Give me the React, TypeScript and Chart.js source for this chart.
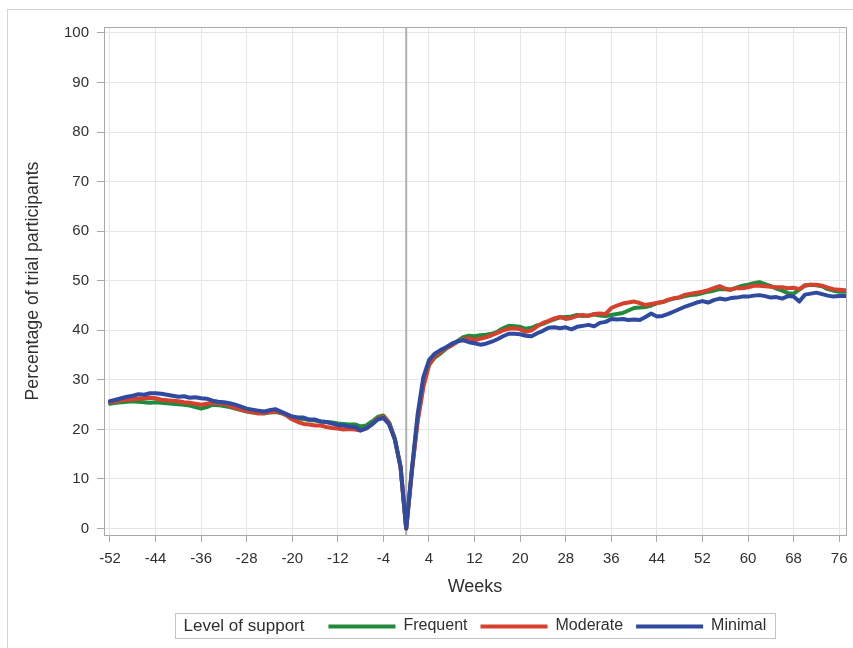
import React, { useEffect, useRef } from "react";
import { Chart, registerables } from "chart.js";

Chart.register(...registerables);

const FIRST_WEEK = -52;
const LAST_WEEK = 77;
const weeks: number[] = Array.from({ length: LAST_WEEK - FIRST_WEEK + 1 }, (_, i) => FIRST_WEEK + i);

const xTicks: number[] = [-52, -44, -36, -28, -20, -12, -4, 4, 12, 20, 28, 36, 44, 52, 60, 68, 76];
const yTicks: number[] = [0, 10, 20, 30, 40, 50, 60, 70, 80, 90, 100];

const seriesNames: string[] = ["Frequent", "Moderate", "Minimal"];
const seriesColors: string[] = ["#218a3d", "#d7402c", "#2f4aa0"];
const legendTitle = "Level of support";
const xTitle = "Weeks";
const yTitle = "Percentage of trial participants";

const frequent: number[] = [
  25.2, 25.4, 25.5, 25.6, 25.7, 25.6, 25.5, 25.4, 25.5, 25.4,
  25.3, 25.2, 25.1, 25.0, 24.8, 24.5, 24.2, 24.5, 25.0, 24.9,
  24.7, 24.5, 24.2, 23.9, 23.6, 23.4, 23.3, 23.2, 23.4, 23.5,
  23.3, 22.9, 22.4, 22.2, 22.1, 21.9, 21.8, 21.6, 21.5, 21.4,
  21.2, 21.1, 21.0, 21.0, 20.6, 20.8, 21.6, 22.5, 22.8, 21.4,
  18.2, 12.5, 0, 11.8, 22.0, 29.0, 33.0, 34.5, 35.3, 36.3,
  37.0, 37.8, 38.6, 38.9, 38.8, 39.0, 39.1, 39.3, 39.7, 40.4,
  40.9, 40.8, 40.7, 40.3, 40.5, 41.0, 41.3, 41.8, 42.2, 42.6,
  42.7, 42.8, 43.1, 42.9, 43.0, 43.2, 43.0, 42.9, 43.1, 43.3,
  43.5, 44.0, 44.5, 44.6, 44.7, 45.0, 45.5, 45.7, 46.1, 46.4,
  46.6, 46.9, 47.1, 47.2, 47.5, 47.8, 48.0, 48.3, 48.3, 48.2,
  48.6, 49.0, 49.2, 49.5, 49.7, 49.3, 48.9, 48.4, 48.0, 47.5,
  47.4, 48.2, 49.0, 49.2, 49.1, 48.9, 48.3, 48.0, 47.8, 47.8,
];

const moderate: number[] = [
  25.5, 25.7, 25.9, 26.0, 26.1, 26.2, 26.3, 26.4, 26.3, 26.0,
  25.9, 25.8, 25.7, 25.5, 25.4, 25.2, 25.0, 25.2, 25.4, 25.3,
  25.2, 24.8, 24.3, 24.0, 23.7, 23.5, 23.2, 23.3, 23.5, 23.6,
  23.4, 22.8, 22.0, 21.5, 21.1, 21.0, 20.8, 20.8, 20.5, 20.3,
  20.2, 20.0, 20.1, 20.0, 19.8, 20.2, 21.0, 22.2, 22.6, 21.3,
  18.0, 12.5, 0, 11.5, 21.5, 28.5, 33.0, 34.8, 35.6, 36.4,
  37.0, 37.7, 38.2, 38.4, 38.0, 38.3, 38.6, 39.0, 39.5, 40.0,
  40.3, 40.4, 40.2, 39.7, 40.0, 40.8, 41.5, 41.9, 42.4, 42.7,
  42.3, 42.5, 42.9, 43.1, 42.9, 43.3, 43.4, 43.3, 44.5, 45.0,
  45.4, 45.6, 45.8, 45.5, 45.1, 45.3, 45.5, 45.7, 46.2, 46.5,
  46.7, 47.2, 47.4, 47.6, 47.8, 48.1, 48.5, 48.9, 48.4, 48.2,
  48.5, 48.5, 48.7, 49.0, 49.0, 48.9, 48.8, 48.7, 48.7, 48.5,
  48.6, 48.3, 49.1, 49.2, 49.2, 49.0, 48.6, 48.3, 48.2, 48.1,
];

const minimal: number[] = [
  25.7, 26.0, 26.3, 26.6, 26.8, 27.1, 27.0, 27.3, 27.3, 27.2,
  27.0, 26.8, 26.6, 26.7, 26.4, 26.5, 26.3, 26.2, 25.8, 25.6,
  25.5, 25.3, 25.0, 24.6, 24.2, 24.0, 23.8, 23.6, 23.9, 24.1,
  23.6, 23.1, 22.6, 22.4, 22.4, 22.0, 22.0, 21.6, 21.5, 21.2,
  20.9, 20.8, 20.6, 20.5, 19.8, 20.2, 21.0, 22.0, 22.3, 21.0,
  18.0, 12.5, 0, 12.0, 23.0, 30.5, 34.0, 35.3, 36.0, 36.6,
  37.3, 37.8, 38.0, 37.6, 37.4, 37.1, 37.3, 37.7, 38.2, 38.8,
  39.3, 39.3, 39.2, 38.9, 38.8, 39.4, 39.9, 40.5, 40.6, 40.4,
  40.6, 40.2, 40.7, 40.9, 41.1, 40.8, 41.5, 41.7, 42.3, 42.2,
  42.3, 42.1, 42.2, 42.1, 42.7, 43.4, 42.8, 42.9, 43.3, 43.8,
  44.3, 44.8, 45.2, 45.6, 45.9, 45.6, 46.1, 46.4, 46.2, 46.5,
  46.6, 46.8, 46.8, 47.0, 47.1, 46.9, 46.6, 46.7, 46.4, 46.9,
  46.8, 45.8, 47.2, 47.4, 47.6, 47.3, 47.0, 46.8, 46.9, 46.9,
];

const seriesValues: number[][] = [frequent, moderate, minimal];

const FONT = "'Liberation Sans', Arial, Helvetica, sans-serif";
const TEXT = "#303030";

const decorPlugin = {
  id: "decor",
  beforeDraw(chart: any) {
    const ctx = chart.ctx;
    ctx.save();
    ctx.fillStyle = "#ffffff";
    ctx.fillRect(0, 0, chart.width, chart.height);
    ctx.strokeStyle = "#d4d4d4";
    ctx.lineWidth = 1;
    ctx.strokeRect(7.5, 9.5, chart.width + 20, chart.height + 20);
    ctx.restore();
  },
  beforeDatasetsDraw(chart: any) {
    const { ctx, chartArea, scales } = chart;
    const x0 = scales.x.getPixelForValue(0);
    ctx.save();
    ctx.strokeStyle = "#b0b0b0";
    ctx.lineWidth = 2;
    ctx.beginPath();
    ctx.moveTo(x0, chartArea.top);
    ctx.lineTo(x0, chartArea.bottom);
    ctx.stroke();
    ctx.restore();
  },
  afterDraw(chart: any) {
    const { ctx, chartArea } = chart;
    ctx.save();
    // plot frame top/right
    ctx.strokeStyle = "#a8a8a8";
    ctx.lineWidth = 1;
    ctx.beginPath();
    ctx.moveTo(chartArea.left, chartArea.top + 0.5);
    ctx.lineTo(chartArea.right + 0.5, chartArea.top + 0.5);
    ctx.lineTo(chartArea.right + 0.5, chartArea.bottom);
    ctx.stroke();

    // legend
    ctx.textBaseline = "middle";
    ctx.textAlign = "left";
    const lineLen = 67;
    const padL = 8;
    const padR = 9;
    const titleGap = 24;
    const lineGap = 8;
    const itemGap = 13;
    ctx.font = `17px ${FONT}`;
    const titleW = ctx.measureText(legendTitle).width;
    ctx.font = `16px ${FONT}`;
    const itemWs = seriesNames.map((n) => ctx.measureText(n).width);
    let content = titleW + titleGap;
    itemWs.forEach((w, i) => {
      content += lineLen + lineGap + w + (i < itemWs.length - 1 ? itemGap : 0);
    });
    const boxW = padL + content + padR;
    const cx = (chartArea.left + chartArea.right) / 2;
    const boxX = Math.round(cx - boxW / 2) + 0.5;
    const boxY = 613.5;
    const boxH = 25;
    ctx.strokeStyle = "#c4c4c4";
    ctx.strokeRect(boxX, boxY, Math.round(boxW), boxH);
    const cy = boxY + boxH / 2;
    let x = boxX + padL;
    ctx.fillStyle = TEXT;
    ctx.font = `17px ${FONT}`;
    ctx.fillText(legendTitle, x, cy);
    x += titleW + titleGap;
    ctx.font = `16px ${FONT}`;
    seriesNames.forEach((n, i) => {
      ctx.strokeStyle = seriesColors[i];
      ctx.lineWidth = 4;
      ctx.beginPath();
      ctx.moveTo(x, cy + 0.5);
      ctx.lineTo(x + lineLen, cy + 0.5);
      ctx.stroke();
      x += lineLen + lineGap;
      ctx.fillStyle = TEXT;
      ctx.fillText(n, x, cy);
      x += itemWs[i] + itemGap;
    });
    ctx.restore();
  },
};

export default function App() {
  const canvasRef = useRef<HTMLCanvasElement | null>(null);

  useEffect(() => {
    const canvas = canvasRef.current;
    if (!canvas) return;
    const datasets = seriesNames.map((name, i) => ({
      label: name,
      data: weeks.map((w, j) => ({ x: w, y: seriesValues[i][j] })),
      borderColor: seriesColors[i],
      backgroundColor: seriesColors[i],
      borderWidth: 4,
      pointRadius: 0,
      tension: 0,
      borderJoinStyle: "round" as const,
      borderCapStyle: "round" as const,
      order: seriesNames.length - i,
    }));

    const chart = new Chart(canvas, {
      type: "line",
      data: { datasets },
      options: {
        animation: false,
        responsive: false,
        devicePixelRatio: 1,
        layout: { padding: { left: 0, right: 7, top: 27, bottom: 48 } },
        plugins: {
          legend: { display: false },
          tooltip: { enabled: false },
        },
        scales: {
          x: {
            type: "linear",
            min: -53.05,
            max: 77.2,
            afterBuildTicks: (scale: any) => {
              scale.ticks = xTicks.map((v) => ({ value: v }));
            },
            afterFit: (scale: any) => {
              scale.height = 65;
              scale.paddingLeft = 0;
              scale.paddingRight = 0;
            },
            ticks: {
              autoSkip: false,
              maxRotation: 0,
              padding: 8,
              color: TEXT,
              font: { family: FONT, size: 15 },
              callback: (v: any) => String(v),
            },
            grid: {
              color: "#e6e6e6",
              lineWidth: 1,
              tickLength: 7,
              tickColor: "#a8a8a8",
              drawTicks: true,
            },
            border: { display: true, color: "#a8a8a8", width: 1 },
            title: {
              display: true,
              text: xTitle,
              color: TEXT,
              font: { family: FONT, size: 18 },
              padding: { top: 0, bottom: 2 },
            },
          },
          y: {
            type: "linear",
            min: -1.3,
            max: 101.2,
            afterBuildTicks: (scale: any) => {
              scale.ticks = yTicks.map((v) => ({ value: v }));
            },
            afterFit: (scale: any) => {
              scale.width = 104;
              scale.paddingTop = 0;
              scale.paddingBottom = 0;
            },
            ticks: {
              padding: 8,
              color: TEXT,
              font: { family: FONT, size: 15 },
              callback: (v: any) => String(v),
            },
            grid: {
              color: "#e6e6e6",
              lineWidth: 1,
              tickLength: 7,
              tickColor: "#a8a8a8",
              drawTicks: true,
            },
            border: { display: true, color: "#a8a8a8", width: 1 },
            title: {
              display: true,
              text: yTitle,
              color: TEXT,
              font: { family: FONT, size: 17.7 },
              padding: { top: 22, bottom: 0 },
            },
          },
        },
      },
      plugins: [decorPlugin],
    });
    return () => chart.destroy();
  }, []);

  return (
    <div style={{ position: "absolute", left: 0, top: 0, width: 853, height: 648, background: "#fff" }}>
      <canvas ref={canvasRef} width={853} height={648} style={{ display: "block", width: 853, height: 648 }} />
    </div>
  );
}
